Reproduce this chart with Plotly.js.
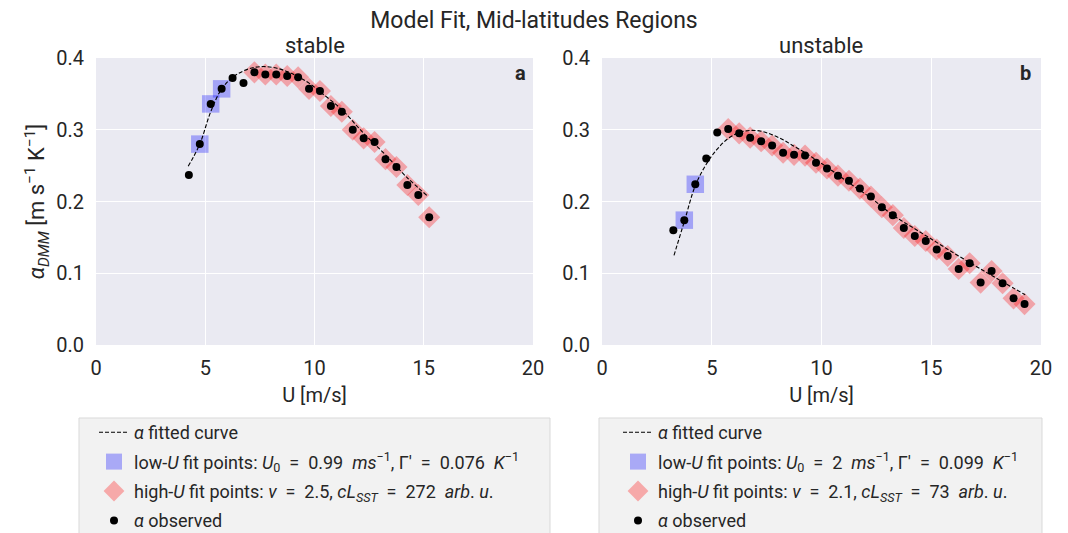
<!DOCTYPE html>
<html>
<head>
<meta charset="utf-8">
<script src="https://cdn.plot.ly/plotly-3.0.1.min.js"></script>
<style>html,body{margin:0;padding:0;background:#fff;}#chart{width:1068px;height:533px;}</style>
</head>
<body>
<div id="chart"></div>
<script>
// ---- Data ----
const stableU = [4.25,4.75,5.25,5.75,6.25,6.75,7.25,7.75,8.25,8.75,9.25,9.75,10.25,10.75,11.25,11.75,12.25,12.75,13.25,13.75,14.25,14.75,15.25];
const stableAlpha = [0.237,0.280,0.336,0.357,0.372,0.365,0.380,0.377,0.377,0.375,0.373,0.357,0.354,0.333,0.325,0.300,0.288,0.283,0.259,0.248,0.223,0.209,0.178];
const stableLowU = [4.75,5.25,5.75];
const stableLowAlpha = [0.280,0.336,0.357];
const stableHighU = [7.25,7.75,8.25,8.75,9.25,9.75,10.25,10.75,11.25,11.75,12.25,12.75,13.25,13.75,14.25,14.75,15.25];
const stableHighAlpha = [0.380,0.377,0.377,0.375,0.373,0.357,0.354,0.333,0.325,0.300,0.288,0.283,0.259,0.248,0.223,0.209,0.178];
const stableFitU = [4.22,4.75,5.25,5.75,6.25,6.75,7.25,7.75,8.25,8.75,9.25,9.75,10.25,11.25,12.25,13.25,14.25,15.2];
const stableFitAlpha = [0.249,0.280,0.325,0.357,0.373,0.382,0.387,0.388,0.386,0.381,0.374,0.365,0.353,0.328,0.295,0.265,0.233,0.207];

const unstableU = [3.25,3.75,4.25,4.75,5.25,5.75,6.25,6.75,7.25,7.75,8.25,8.75,9.25,9.75,10.25,10.75,11.25,11.75,12.25,12.75,13.25,13.75,14.25,14.75,15.25,15.75,16.25,16.75,17.25,17.75,18.25,18.75,19.25];
const unstableAlpha = [0.160,0.174,0.224,0.260,0.296,0.301,0.295,0.289,0.284,0.278,0.268,0.265,0.264,0.254,0.246,0.236,0.229,0.218,0.207,0.192,0.181,0.163,0.152,0.145,0.133,0.124,0.106,0.114,0.087,0.103,0.086,0.065,0.057];
const unstableLowU = [3.75,4.25];
const unstableLowAlpha = [0.174,0.224];
const unstableHighU = [5.75,6.25,6.75,7.25,7.75,8.25,8.75,9.25,9.75,10.25,10.75,11.25,11.75,12.25,12.75,13.25,13.75,14.25,14.75,15.25,15.75,16.25,16.75,17.25,17.75,18.25,18.75,19.25];
const unstableHighAlpha = [0.301,0.295,0.289,0.284,0.278,0.268,0.265,0.264,0.254,0.246,0.236,0.229,0.218,0.207,0.192,0.181,0.163,0.152,0.145,0.133,0.124,0.106,0.114,0.087,0.103,0.086,0.065,0.057];
const unstableFitU = [3.28,3.75,4.25,4.75,5.25,5.75,6.25,6.75,7.25,7.75,8.25,8.75,9.25,9.75,10.25,10.75,11.25,12.25,13.25,14.25,15.25,16.25,17.25,18.25,19.28];
const unstableFitAlpha = [0.125,0.172,0.222,0.252,0.273,0.288,0.296,0.299,0.298,0.293,0.286,0.277,0.268,0.258,0.248,0.237,0.226,0.205,0.181,0.162,0.143,0.124,0.106,0.088,0.070];

const xTicks = [0,5,10,15,20];
const yTicks = [0.0,0.1,0.2,0.3,0.4];

const S = '&nbsp;';
const panels = [
  {u: stableU, a: stableAlpha, lu: stableLowU, la: stableLowAlpha, hu: stableHighU, ha: stableHighAlpha, fu: stableFitU, fa: stableFitAlpha,
   lowName: "low-<i>U</i> fit points: <i>U</i><sub>0</sub>"+S+S+"="+S+S+"0.99"+S+S+"<i>ms</i><sup>−1</sup>,"+S+"Γ′"+S+S+"="+S+S+"0.076"+S+S+"<i>K</i><sup>−1</sup>",
   highName: "high-<i>U</i> fit points: <i>ν</i>"+S+S+"="+S+S+"2.5,"+S+"<i>cL</i><sub><i>SST</i></sub>"+S+S+"="+S+S+"272"+S+S+"<i>arb</i>."+S+"<i>u</i>.",
   xa: 'x', ya: 'y', leg: 'legend'},
  {u: unstableU, a: unstableAlpha, lu: unstableLowU, la: unstableLowAlpha, hu: unstableHighU, ha: unstableHighAlpha, fu: unstableFitU, fa: unstableFitAlpha,
   lowName: "low-<i>U</i> fit points: <i>U</i><sub>0</sub>"+S+S+"="+S+S+"2"+S+S+"<i>ms</i><sup>−1</sup>,"+S+"Γ′"+S+S+"="+S+S+"0.099"+S+S+"<i>K</i><sup>−1</sup>",
   highName: "high-<i>U</i> fit points: <i>ν</i>"+S+S+"="+S+S+"2.1,"+S+"<i>cL</i><sub><i>SST</i></sub>"+S+S+"="+S+S+"73"+S+S+"<i>arb</i>."+S+"<i>u</i>.",
   xa: 'x2', ya: 'y2', leg: 'legend2'}
];

const traces = [];
panels.forEach((p, i) => {
  traces.push({type:'scatter', mode:'markers', x:p.lu, y:p.la, xaxis:p.xa, yaxis:p.ya, legend:p.leg,
    name:p.lowName, legendgroup:'low'+i, legendrank:2,
    marker:{symbol:'square', size:17.5, color:'rgba(0,0,255,0.3)', line:{width:0}}});
  traces.push({type:'scatter', mode:'markers', x:p.hu, y:p.ha, xaxis:p.xa, yaxis:p.ya, legend:p.leg,
    name:p.highName, legendgroup:'high'+i, legendrank:3,
    marker:{symbol:'diamond', size:17, color:'rgba(255,0,0,0.3)', line:{width:0}}});
  traces.push({type:'scatter', mode:'lines', x:p.fu, y:p.fa, xaxis:p.xa, yaxis:p.ya, legend:p.leg,
    name:"<i>α</i> fitted curve", legendgroup:'fit'+i, legendrank:1,
    line:{color:'#000', width:1.1, dash:'4px,2px', shape:'spline', smoothing:1}});
  traces.push({type:'scatter', mode:'markers', x:p.u, y:p.a, xaxis:p.xa, yaxis:p.ya, legend:p.leg,
    name:"<i>α</i> observed", legendgroup:'obs'+i, legendrank:4,
    marker:{symbol:'circle', size:8, color:'#000', line:{width:0}}});
});

const W = 1068, H = 533;
const font = {family:'Roboto, "Noto Sans", sans-serif', color:'#262626'};
const ydom = [1-345/H, 1-58/H];
function xaxisDef(dom, anchor){
  return {domain:dom, anchor:anchor, range:[0,20], tickvals:xTicks, ticktext:xTicks.map(String),
    showgrid:true, gridcolor:'#ffffff', gridwidth:1, zeroline:false, showline:false,
    ticks:'outside', ticklen:5, tickcolor:'rgba(0,0,0,0)', tickfont:{size:20},
    title:{text:'U [m/s]', font:{size:20}, standoff:8}, fixedrange:true};
}
function yaxisDef(anchor, withTitle){
  const o = {domain:ydom, anchor:anchor, range:[0,0.4], tickvals:yTicks, ticktext:yTicks.map(v=>v.toFixed(1)),
    showgrid:true, gridcolor:'#ffffff', gridwidth:1, zeroline:false, showline:false,
    ticks:'outside', ticklen:7, tickcolor:'rgba(0,0,0,0)', tickfont:{size:20}, fixedrange:true};
  if (withTitle) o.title = {text:'<i>α</i><sub><i>DMM</i></sub> [m s<sup>−1</sup> K<sup>−1</sup>]', font:{size:22}, standoff:5};
  return o;
}

const legendCommon = {bgcolor:'rgba(0,0,0,0)', borderwidth:0, font:{size:18}, traceorder:'grouped', tracegroupgap:3,
  xanchor:'left', yanchor:'top', orientation:'v'};

const layout = {
  width:W, height:H, margin:{l:0,r:0,t:0,b:0,autoexpand:false}, paper_bgcolor:'#ffffff', plot_bgcolor:'#eaeaf2',
  font: font,
  title:{text:'Model Fit, Mid-latitudes Regions', font:{size:23}, x:534/W, xanchor:'center', y:1-20/H, yanchor:'middle'},
  xaxis: xaxisDef([96/W, 533/W], 'y'),
  yaxis: yaxisDef('x', true),
  xaxis2: xaxisDef([602/W, 1041/W], 'y2'),
  yaxis2: yaxisDef('x2', false),
  legend: Object.assign({}, legendCommon, {x:94/W, y:1-414/H}),
  legend2: Object.assign({}, legendCommon, {x:618/W, y:1-414/H}),
  shapes:[
    {type:'rect', xref:'paper', yref:'paper', x0:79/W, x1:550/W, y0:-0.05, y1:1-418/H, fillcolor:'#f2f2f2', line:{color:'#d9d9d9', width:1}, layer:'below'},
    {type:'rect', xref:'paper', yref:'paper', x0:599/W, x1:1042/W, y0:-0.05, y1:1-418/H, fillcolor:'#f2f2f2', line:{color:'#d9d9d9', width:1}, layer:'below'}
  ],
  annotations:[
    {text:'stable', xref:'paper', yref:'paper', x:315/W, y:1-46/H, xanchor:'center', yanchor:'middle', showarrow:false, font:{size:22}},
    {text:'unstable', xref:'paper', yref:'paper', x:821/W, y:1-46/H, xanchor:'center', yanchor:'middle', showarrow:false, font:{size:22}},
    {text:'<b>a</b>', xref:'paper', yref:'paper', x:520/W, y:1-73/H, xanchor:'center', yanchor:'middle', showarrow:false, font:{size:20}},
    {text:'<b>b</b>', xref:'paper', yref:'paper', x:1025/W, y:1-73/H, xanchor:'center', yanchor:'middle', showarrow:false, font:{size:20}}
  ],
  showlegend:true
};

Plotly.newPlot('chart', traces, layout, {staticPlot:true, displayModeBar:false});
</script>
</body>
</html>
